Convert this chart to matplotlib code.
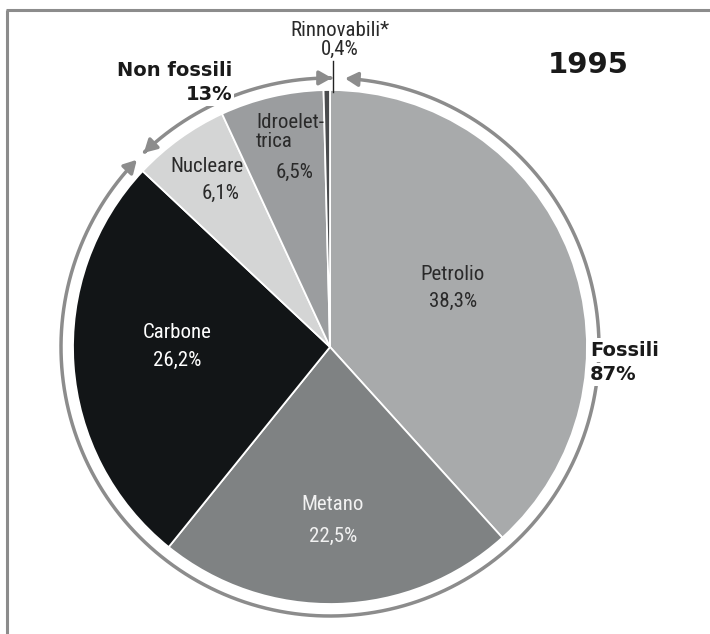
import numpy as np
import matplotlib
matplotlib.use("Agg")
import matplotlib.pyplot as plt
from matplotlib import font_manager
from matplotlib.patches import FancyArrowPatch
from matplotlib.path import Path

# data (clockwise from the top)
sources = ["Petrolio", "Metano", "Carbone", "Nucleare", "Idroelet-\ntrica", "Rinnovabili*"]
shares = [38.3, 22.5, 26.2, 6.1, 6.5, 0.4]
share_labels = ["38,3%", "22,5%", "26,2%", "6,1%", "6,5%", "0,4%"]
colors = ["#a8aaab", "#7f8283", "#121517", "#d4d5d5", "#9b9d9f", "#4a4c4e"]
year = "1995"
group_names = ["Fossili", "Non fossili"]
group_labels = ["87%", "13%"]

# pick a condensed face if there is one
names = {f.name for f in font_manager.fontManager.ttflist}
narrow = next((n for n in ["Liberation Sans Narrow", "Roboto Condensed", "Open Sans Condensed"]
               if n in names), "Liberation Sans")

W, H = 710, 634
fig = plt.figure(figsize=(W / 100, H / 100), dpi=100)
ax = fig.add_axes([0, 0, 1, 1])

cx, cy = 330, H - 347   # pie centre in pixel units (y up)
R = 257
ring = 269
grey = "#8c8c8c"

ax.pie(shares, colors=colors, startangle=90, counterclock=False,
       center=(cx, cy), radius=R,
       wedgeprops=dict(edgecolor="white", linewidth=1.3))
ax.set_xlim(0, W)
ax.set_ylim(0, H)
ax.set_aspect("auto")
ax.axis("off")

def py(y):  # image row -> data y
    return H - y

# frame lines (top and left)
ax.plot([6, W], [py(9.5), py(9.5)], color=grey, lw=2.2, solid_capstyle="butt")
ax.plot([7, 7], [py(9.5), 0], color=grey, lw=2.2, solid_capstyle="butt")

# outer arcs with arrows
def arc(a0, a1):
    t = np.radians(np.linspace(a0, a1, 200))
    verts = np.column_stack([cx + ring * np.cos(t), cy + ring * np.sin(t)])
    p = FancyArrowPatch(path=Path(verts), arrowstyle="<|-|>,head_length=0.75,head_width=0.42",
                        mutation_scale=10, color=grey, lw=2.5, zorder=3)
    ax.add_patch(p)

arc(86.8, 135.9 - 360)   # fossili
arc(133.8, 89.6)         # non fossili

# leader for Rinnovabili
ax.plot([333, 333], [py(61), py(92)], color="#222222", lw=1.0, zorder=4)

# slice labels
dark = "#2a2a2a"
txt = dict(family=narrow, fontsize=15, ha="center", va="center", zorder=5)
ax.text(453, py(274), sources[0], color=dark, **txt)
ax.text(453, py(301), share_labels[0], color=dark, **txt)
ax.text(333, py(505), sources[1], color="#f2f2f2", **txt)
ax.text(333, py(536), share_labels[1], color="#f2f2f2", **txt)
ax.text(177, py(332), sources[2], color="white", **txt)
ax.text(177, py(360), share_labels[2], color="white", **txt)
ax.text(207, py(166), sources[3], color=dark, **txt)
ax.text(221, py(193), share_labels[3], color=dark, **txt)
ax.text(256, py(132), sources[4], color=dark, linespacing=0.95,
        **{**txt, "ha": "left", "multialignment": "left"})
ax.text(295, py(172), share_labels[4], color=dark, **txt)
ax.text(340, py(31), sources[5], color=dark, **txt)
ax.text(340, py(49), share_labels[5], color=dark, **txt)

# group labels
bold = dict(family="DejaVu Sans", fontweight="bold", fontsize=14, color="#1a1a1a",
            va="center", zorder=6)
box = dict(boxstyle="square,pad=0.12", fc="white", ec="none")
ax.text(232, py(70.5), group_names[1], ha="right", **bold)
ax.text(232, py(94), group_labels[1], ha="right", bbox=box, **bold)
ax.text(590, py(350), group_names[0], ha="left", bbox=box, **bold)
ax.text(590, py(374.5), group_labels[0], ha="left", bbox=box, **bold)

ax.text(588, py(65), year, family="DejaVu Sans", fontweight="bold", fontsize=21,
        color="#1a1a1a", ha="center", va="center")

fig.savefig("out.png", dpi=100)
